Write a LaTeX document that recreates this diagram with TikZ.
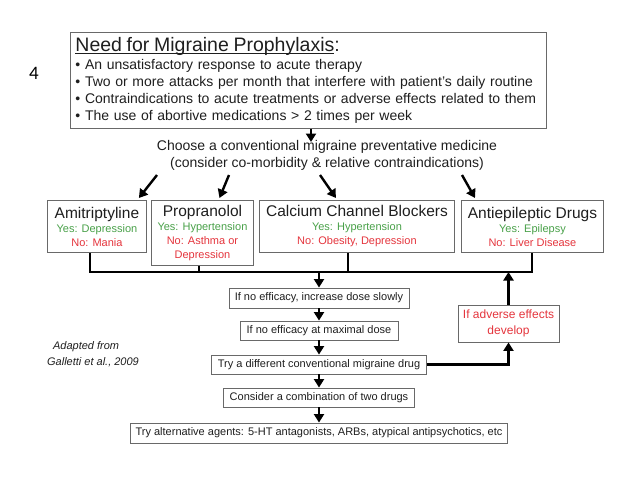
\documentclass[tikz,border=0pt]{standalone}
\usepackage{fontspec}
\setmainfont{Liberation Sans}
\newfontfamily\numfont{Carlito}
\newcommand\thickunder[1]{\setbox0=\hbox{#1}\rlap{\copy0}\rule[-2.8pt]{\wd0}{1pt}}
\usetikzlibrary{arrows.meta}
\definecolor{yesgreen}{RGB}{72,160,72}
\definecolor{nored}{RGB}{228,52,60}
\definecolor{framegray}{RGB}{105,105,105}
\definecolor{ink}{RGB}{30,30,30}

\begin{document}
\begin{tikzpicture}[x=1pt,y=-1pt,
	drugbox/.style={draw=framegray,line width=0.9pt,anchor=north west,align=center,text=ink,inner sep=1pt,font=\fontsize{11}{14}\selectfont},
	flowbox/.style={draw=framegray,line width=0.9pt,align=center,text=ink,inner sep=1pt,font=\fontsize{11}{13}\selectfont},
	flowarrow/.style={line width=2.4pt,-{Triangle[length=8.5pt,width=10pt]}},
	busline/.style={line width=2.4pt}]
			\useasboundingbox (0,0) rectangle (638,479);
			
			\node[font=\numfont\fontsize{19}{19}\selectfont] (num) at (34,73) {4};
			
			% need for prophylaxis
			\node[draw=framegray,line width=0.9pt,anchor=north west,minimum height=96pt,text width=466pt,inner xsep=5pt,inner ysep=2pt,align=left,text=ink,font=\fontsize{14}{17}\selectfont] (need) at (70,32)
			{{\fontsize{19.5}{21}\selectfont\thickunder{Need for Migraine Prophylaxis}:}\\[1.5pt]
			• An unsatisfactory response to acute therapy\\
			• Two or more attacks per month that interfere with patient's daily routine\\
			• Contraindications to acute treatments or adverse effects related to them\\
			• The use of abortive medications > 2 times per week};
			
			\node[align=center,text=ink,font=\fontsize{14}{17}\selectfont] (choose) at (327,155.5) {Choose a conventional migraine preventative medicine\\(consider co-morbidity \& relative contraindications)};
			\coordinate (topdrop) at (311,142);
			\draw[flowarrow] (need.south -| topdrop) -- (topdrop);
			
			% the four drug classes
			\node[drugbox,minimum width=99pt,minimum height=52pt] (ami) at (47,200)
			{{\fontsize{15.5}{17}\selectfont Amitriptyline}\\{\color{yesgreen}Yes: Depression}\\{\color{nored}No: Mania}};
			\node[drugbox,minimum width=102pt,minimum height=65pt] (pro) at (151,200)
			{{\fontsize{15.5}{17}\selectfont Propranolol}\\{\color{yesgreen}Yes: Hypertension}\\{\color{nored}No: Asthma or}\\{\color{nored}Depression}};
			\node[drugbox,minimum width=195pt,minimum height=52pt] (ccb) at (259,200)
			{{\fontsize{15.5}{17}\selectfont Calcium Channel Blockers}\\{\color{yesgreen}Yes: Hypertension}\\{\color{nored}No: Obesity, Depression}};
			\node[drugbox,minimum width=142pt,minimum height=52pt] (aed) at (461,200)
			{{\fontsize{15.5}{17}\selectfont Antiepileptic Drugs}\\{\color{yesgreen}Yes: Epilepsy}\\{\color{nored}No: Liver Disease}};
			
			\coordinate (c1) at (157,175);
			\coordinate (c2) at (229,175);
			\coordinate (c3) at (320,175);
			\coordinate (c4) at (462,175);
			\draw[flowarrow] (c1) -- ([xshift=-8pt,yshift=2pt]ami.north east);
			\draw[flowarrow] (c2) -- ([xshift=17pt,yshift=2pt]pro.north);
			\draw[flowarrow] (c3) -- ([xshift=-21pt,yshift=2pt]ccb.north);
			\draw[flowarrow] (c4) -- ([xshift=14pt,yshift=2pt]aed.north west);
			
			% collecting line
			\coordinate (busL) at (90,272);
			\coordinate (busR) at (532,272);
			\coordinate (proB) at (199,272);
			\coordinate (ccbB) at (348,272);
			\draw[busline] (ami.south -| busL) -- (busL) -- (busR) -- (aed.south -| busR);
			\draw[busline] (pro.south -| proB) -- (proB);
			\draw[busline] (ccb.south -| ccbB) -- (ccbB);
			
			% what to do next
			\node[flowbox,minimum width=180pt,minimum height=20pt] (b1) at (319,298) {If no efficacy, increase dose slowly};
			\node[flowbox,minimum width=158pt,minimum height=19pt] (b2) at (319,330.5) {If no efficacy at maximal dose};
			\node[flowbox,minimum width=215pt,minimum height=19pt] (b3) at (319,364.5) {Try a different conventional migraine drug};
			\node[flowbox,minimum width=191pt,minimum height=19pt] (b4) at (319,397.5) {Consider a combination of two drugs};
			\node[flowbox,minimum width=377pt,minimum height=20pt] (b5) at (319,433) {Try alternative agents: 5-HT antagonists, ARBs, atypical antipsychotics, etc};
			\node[flowbox,minimum width=101pt,minimum height=37pt,text=nored,font=\fontsize{12}{16}\selectfont] (adv) at (508.5,323.5) {If adverse effects\\develop};
			
			\draw[flowarrow] (b1.north |- busL) -- (b1.north);
			\draw[flowarrow] (b1) -- (b2);
			\draw[flowarrow] (b2) -- (b3);
			\draw[flowarrow] (b3) -- (b4);
			\draw[flowarrow] (b4) -- (b5);
			\draw[flowarrow] (b3.east) -| (adv.south);
			\draw[flowarrow] (adv.north) -- (adv.north |- busR);
			
			\node[align=left,text=ink,font=\itshape\fontsize{11}{16}\selectfont] (src) at (93,354) {\hspace*{6pt}Adapted from\\Galletti et al., 2009};
			\end{tikzpicture}
\end{document}
